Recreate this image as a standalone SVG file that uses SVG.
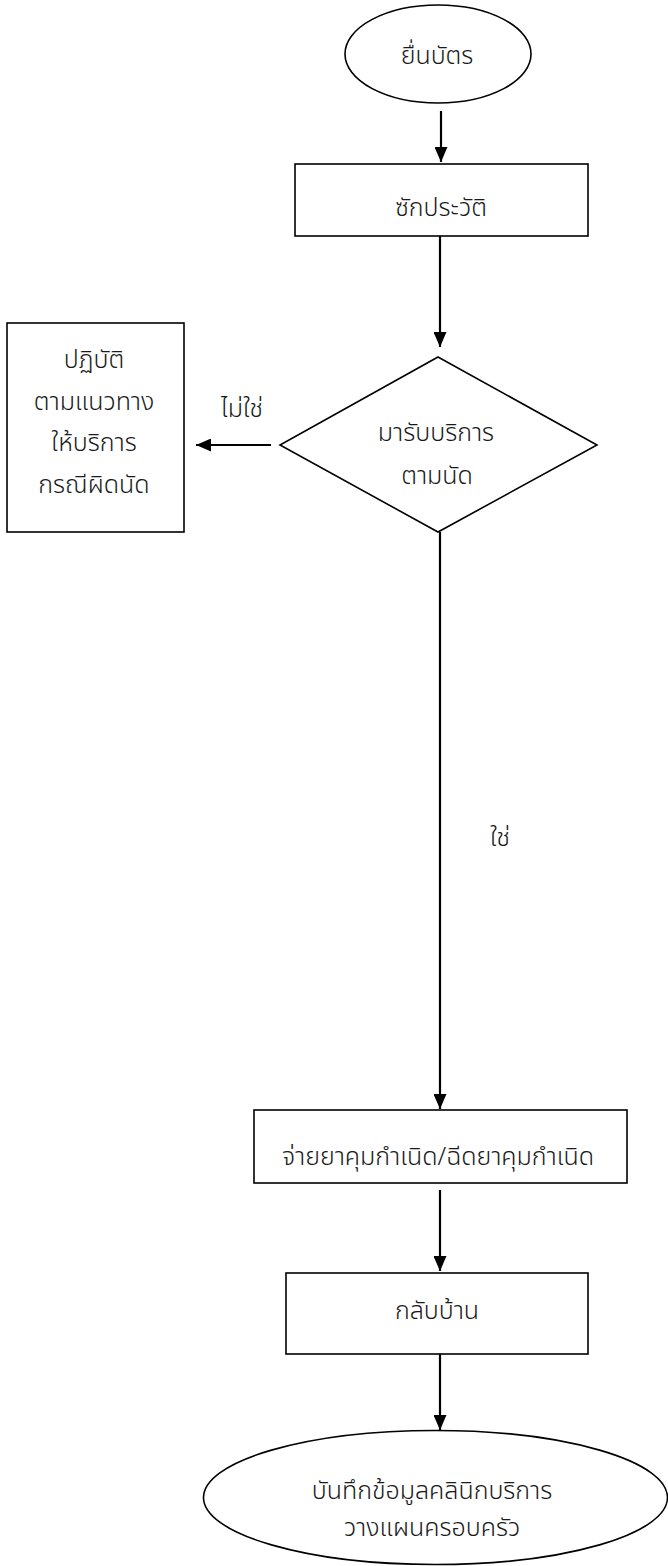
<svg xmlns="http://www.w3.org/2000/svg" width="668" height="1566" viewBox="0 0 668 1566">
<style>
.shape{fill:#fff;stroke:#000;stroke-width:1.6}
.conn{stroke:#000;stroke-width:2.2;fill:none}
.t{font-family:"Noto Sans Thai","Noto Sans","DejaVu Sans",sans-serif;font-size:25px;font-weight:300;fill:#1a1a1a;text-anchor:middle}
</style>
<defs>
<marker id="ah" markerUnits="userSpaceOnUse" markerWidth="15" markerHeight="13" refX="15" refY="6.5" orient="auto">
<path d="M0,0 L15,6.5 L0,13 z" fill="#000"/>
</marker>
</defs>
<rect width="668" height="1566" fill="#fff"/>
<g id="connectors">
<line class="conn" x1="441" y1="111" x2="441" y2="162" marker-end="url(#ah)"/>
<line class="conn" x1="440" y1="236" x2="440" y2="347" marker-end="url(#ah)"/>
<line class="conn" x1="271" y1="445" x2="196" y2="445" marker-end="url(#ah)"/>
<line class="conn" x1="440" y1="532" x2="440" y2="1109" marker-end="url(#ah)"/>
<line class="conn" x1="440" y1="1190" x2="440" y2="1271" marker-end="url(#ah)"/>
<line class="conn" x1="440" y1="1354" x2="440" y2="1430" marker-end="url(#ah)"/>
<text class="t" x="242" y="417">ไม่ใช่</text>
<text class="t" x="500" y="846">ใช่</text>
</g>
<g id="start">
<ellipse class="shape" cx="438" cy="54" rx="93" ry="49"/>
<text class="t" x="437" y="64">ยื่นบัตร</text>
</g>
<g id="history">
<rect class="shape" x="295" y="164" width="293" height="72"/>
<text class="t" x="441" y="216">ซักประวัติ</text>
</g>
<g id="decision">
<polygon class="shape" points="438,357 597,445 438,532 280,445"/>
<text class="t" x="436" y="441">มารับบริการ</text>
<text class="t" x="437" y="484">ตามนัด</text>
</g>
<g id="missed">
<rect class="shape" x="7" y="323" width="177" height="209"/>
<text class="t" x="94" y="368">ปฏิบัติ</text>
<text class="t" x="94" y="410">ตามแนวทาง</text>
<text class="t" x="94" y="451">ให้บริการ</text>
<text class="t" x="94" y="493">กรณีผิดนัด</text>
</g>
<g id="dispense">
<rect class="shape" x="254" y="1110" width="373" height="73"/>
<text class="t" x="438" y="1165">จ่ายยาคุมกำเนิด/ฉีดยาคุมกำเนิด</text>
</g>
<g id="home">
<rect class="shape" x="286" y="1273" width="302" height="81"/>
<text class="t" x="437" y="1319">กลับบ้าน</text>
</g>
<g id="record">
<ellipse class="shape" cx="435.5" cy="1497.5" rx="232" ry="67"/>
<text class="t" x="432" y="1499">บันทึกข้อมูลคลินิกบริการ</text>
<text class="t" x="432" y="1536">วางแผนครอบครัว</text>
</g>
</svg>
